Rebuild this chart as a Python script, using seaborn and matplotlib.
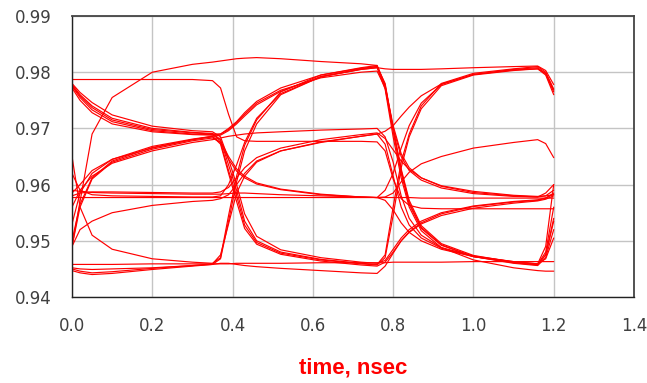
import numpy as np
import pandas as pd
import matplotlib
matplotlib.use("Agg")
import matplotlib.pyplot as plt
from matplotlib.ticker import MultipleLocator, FormatStrFormatter
import seaborn as sns

# common time grid (ns)
time_ns = [0.00, 0.02, 0.05, 0.10, 0.20, 0.30, 0.35, 0.37, 0.39, 0.41, 0.43, 0.46, 0.52,
           0.62, 0.72, 0.76, 0.78, 0.80, 0.82, 0.84, 0.87, 0.92, 1.00, 1.10, 1.16, 1.18, 1.20]

# eye-diagram traces (volts)
tr01 = [0.9490, 0.9570, 0.9690, 0.9755, 0.9800, 0.9814, 0.9818,
        0.9820, 0.9822, 0.9824, 0.9825, 0.9826, 0.9824, 0.9819, 0.9815, 0.9812,
        0.9775, 0.9695, 0.9620, 0.9565, 0.9522, 0.9492, 0.9472, 0.9461, 0.9457,
        0.9475, 0.9540]
tr02 = [0.9787, 0.9787, 0.9787, 0.9787, 0.9787, 0.9787, 0.9785,
        0.9772, 0.9725, 0.9685, 0.9678, 0.9677, 0.9677, 0.9677, 0.9677, 0.9676,
        0.9660, 0.9610, 0.9575, 0.9563, 0.9558, 0.9557, 0.9557, 0.9557, 0.9557,
        0.9557, 0.9557]
tr03 = [0.9458, 0.9458, 0.9458, 0.9458, 0.9459, 0.9459, 0.9459,
        0.9459, 0.9459, 0.9460, 0.9460, 0.9460, 0.9460, 0.9461, 0.9461, 0.9461,
        0.9461, 0.9462, 0.9462, 0.9462, 0.9462, 0.9462, 0.9463, 0.9463, 0.9463,
        0.9463, 0.9463]
tr04 = [0.9577, 0.9577, 0.9577, 0.9577, 0.9577, 0.9577, 0.9577,
        0.9577, 0.9577, 0.9577, 0.9577, 0.9577, 0.9577, 0.9577, 0.9577, 0.9577,
        0.9577, 0.9577, 0.9577, 0.9577, 0.9576, 0.9576, 0.9576, 0.9576, 0.9576,
        0.9576, 0.9576]
tr05 = [0.9778, 0.9760, 0.9740, 0.9718, 0.9700, 0.9693, 0.9691,
        0.9680, 0.9635, 0.9590, 0.9535, 0.9500, 0.9480, 0.9467, 0.9460, 0.9458,
        0.9475, 0.9560, 0.9640, 0.9690, 0.9740, 0.9780, 0.9798, 0.9806, 0.9810,
        0.9800, 0.9770]
tr06 = [0.9775, 0.9755, 0.9733, 0.9712, 0.9696, 0.9690, 0.9689,
        0.9678, 0.9650, 0.9628, 0.9615, 0.9603, 0.9592, 0.9583, 0.9578, 0.9577,
        0.9578, 0.9585, 0.9605, 0.9622, 0.9637, 0.9650, 0.9665, 0.9675, 0.9680,
        0.9673, 0.9648]
tr07 = [0.9772, 0.9750, 0.9728, 0.9708, 0.9694, 0.9689, 0.9688,
        0.9690, 0.9700, 0.9712, 0.9728, 0.9748, 0.9772, 0.9795, 0.9807, 0.9810,
        0.9780, 0.9700, 0.9628, 0.9572, 0.9527, 0.9495, 0.9474, 0.9462, 0.9458,
        0.9480, 0.9560]
tr08 = [0.9780, 0.9764, 0.9746, 0.9724, 0.9704, 0.9696, 0.9694,
        0.9685, 0.9645, 0.9600, 0.9548, 0.9508, 0.9484, 0.9470, 0.9462, 0.9460,
        0.9465, 0.9485, 0.9505, 0.9520, 0.9535, 0.9550, 0.9562, 0.9570, 0.9573,
        0.9576, 0.9585]
tr09 = [0.9776, 0.9758, 0.9737, 0.9715, 0.9698, 0.9692, 0.9690,
        0.9690, 0.9698, 0.9710, 0.9725, 0.9745, 0.9768, 0.9790, 0.9800, 0.9802,
        0.9772, 0.9700, 0.9650, 0.9625, 0.9608, 0.9594, 0.9584, 0.9579, 0.9578,
        0.9580, 0.9590]
tr10 = [0.9490, 0.9560, 0.9610, 0.9640, 0.9663, 0.9678, 0.9683,
        0.9675, 0.9645, 0.9624, 0.9612, 0.9601, 0.9591, 0.9582, 0.9578, 0.9577,
        0.9590, 0.9620, 0.9665, 0.9705, 0.9745, 0.9778, 0.9796, 0.9805, 0.9808,
        0.9797, 0.9765]
tr11 = [0.9585, 0.9600, 0.9625, 0.9645, 0.9665, 0.9680, 0.9685,
        0.9675, 0.9625, 0.9580, 0.9528, 0.9497, 0.9478, 0.9466, 0.9459, 0.9457,
        0.9470, 0.9545, 0.9630, 0.9685, 0.9735, 0.9776, 0.9795, 0.9803, 0.9806,
        0.9795, 0.9760]
tr12 = [0.9530, 0.9585, 0.9620, 0.9645, 0.9668, 0.9681, 0.9686,
        0.9688, 0.9696, 0.9708, 0.9722, 0.9742, 0.9766, 0.9792, 0.9805, 0.9808,
        0.9806, 0.9805, 0.9805, 0.9805, 0.9805, 0.9806, 0.9808, 0.9810, 0.9811,
        0.9803, 0.9778]
tr13 = [0.9560, 0.9590, 0.9615, 0.9638, 0.9660, 0.9675, 0.9680,
        0.9683, 0.9686, 0.9688, 0.9690, 0.9692, 0.9694, 0.9697, 0.9699, 0.9700,
        0.9685, 0.9640, 0.9580, 0.9540, 0.9510, 0.9488, 0.9473, 0.9463, 0.9459,
        0.9490, 0.9600]
tr14 = [0.9500, 0.9565, 0.9612, 0.9642, 0.9666, 0.9680, 0.9686,
        0.9672, 0.9620, 0.9570, 0.9522, 0.9494, 0.9476, 0.9464, 0.9457, 0.9455,
        0.9462, 0.9480, 0.9500, 0.9515, 0.9530, 0.9545, 0.9558, 0.9567, 0.9571,
        0.9574, 0.9580]
tr15 = [0.9580, 0.9585, 0.9587, 0.9587, 0.9586, 0.9585, 0.9585,
        0.9587, 0.9595, 0.9612, 0.9630, 0.9648, 0.9665, 0.9680, 0.9689, 0.9692,
        0.9682, 0.9662, 0.9642, 0.9627, 0.9612, 0.9598, 0.9588, 0.9581, 0.9579,
        0.9580, 0.9582]
tr16 = [0.9620, 0.9590, 0.9582, 0.9580, 0.9579, 0.9578, 0.9578,
        0.9580, 0.9600, 0.9635, 0.9675, 0.9718, 0.9762, 0.9792, 0.9805, 0.9808,
        0.9770, 0.9685, 0.9612, 0.9560, 0.9518, 0.9488, 0.9466, 0.9452, 0.9447,
        0.9446, 0.9446]
tr17 = [0.9590, 0.9588, 0.9586, 0.9585, 0.9584, 0.9583, 0.9583,
        0.9583, 0.9584, 0.9585, 0.9585, 0.9584, 0.9582, 0.9580, 0.9578, 0.9577,
        0.9572, 0.9555, 0.9532, 0.9515, 0.9500, 0.9485, 0.9472, 0.9463, 0.9459,
        0.9468, 0.9505]
tr18 = [0.9490, 0.9520, 0.9535, 0.9550, 0.9563, 0.9570, 0.9572,
        0.9575, 0.9582, 0.9600, 0.9620, 0.9642, 0.9660, 0.9675, 0.9686, 0.9690,
        0.9695, 0.9705, 0.9722, 0.9738, 0.9758, 0.9779, 0.9796, 0.9804, 0.9806,
        0.9798, 0.9768]
tr19 = [0.9650, 0.9560, 0.9510, 0.9485, 0.9468, 0.9462, 0.9460,
        0.9470, 0.9545, 0.9615, 0.9670, 0.9715, 0.9765, 0.9795, 0.9808, 0.9812,
        0.9778, 0.9698, 0.9625, 0.9568, 0.9524, 0.9493, 0.9472, 0.9460, 0.9456,
        0.9470, 0.9520]
tr20 = [0.9447, 0.9443, 0.9440, 0.9442, 0.9449, 0.9455, 0.9458,
        0.9468, 0.9535, 0.9605, 0.9660, 0.9708, 0.9760, 0.9792, 0.9806, 0.9810,
        0.9775, 0.9705, 0.9655, 0.9630, 0.9612, 0.9597, 0.9586, 0.9580, 0.9578,
        0.9585, 0.9600]
tr21 = [0.9450, 0.9446, 0.9443, 0.9445, 0.9451, 0.9456, 0.9459,
        0.9475, 0.9530, 0.9585, 0.9615, 0.9640, 0.9660, 0.9676, 0.9686, 0.9690,
        0.9672, 0.9615, 0.9560, 0.9528, 0.9505, 0.9487, 0.9472, 0.9462, 0.9458,
        0.9475, 0.9535]
tr22 = [0.9452, 0.9450, 0.9449, 0.9450, 0.9452, 0.9456, 0.9458,
        0.9460, 0.9460, 0.9458, 0.9456, 0.9454, 0.9451, 0.9447, 0.9443, 0.9442,
        0.9455, 0.9478, 0.9500, 0.9516, 0.9532, 0.9548, 0.9561, 0.9569, 0.9572,
        0.9576, 0.9583]

traces = [tr01, tr02, tr03, tr04, tr05, tr06, tr07, tr08, tr09, tr10, tr11,
          tr12, tr13, tr14, tr15, tr16, tr17, tr18, tr19, tr20, tr21, tr22]

x_ticks = [0.0, 0.2, 0.4, 0.6, 0.8, 1.0, 1.2, 1.4]
y_ticks = [0.94, 0.95, 0.96, 0.97, 0.98, 0.99]

rows = []
for k, tr in enumerate(traces):
    for t, v in zip(time_ns, tr):
        rows.append({"time": t, "value": v, "trace": k})
df = pd.DataFrame(rows)

sns.set_style("white")
plt.rcParams["font.family"] = ["DejaVu Sans"]

fig = plt.figure(figsize=(6.47, 3.83), dpi=100)
ax = fig.add_axes([0.1113, 0.2245, 0.8686, 0.7337])

sns.lineplot(data=df, x="time", y="value", units="trace", estimator=None,
             sort=False, color="#ff0000", lw=0.85, ax=ax, legend=False)

ax.set_xlim(0, 1.4)
ax.set_ylim(0.94, 0.99)
ax.set_xticks(x_ticks)
ax.set_yticks(y_ticks)
ax.xaxis.set_minor_locator(MultipleLocator(0.1))
ax.yaxis.set_minor_locator(MultipleLocator(0.005))
ax.xaxis.set_major_formatter(FormatStrFormatter("%.1f"))
ax.yaxis.set_major_formatter(FormatStrFormatter("%.2f"))

ax.grid(True, which="major", color="#c4c4c4", lw=1.0)
ax.set_axisbelow(True)

for side in ["left", "bottom"]:
    ax.spines[side].set_color("#222222")
    ax.spines[side].set_linewidth(1.0)
for side in ["top", "right"]:
    ax.spines[side].set_color("#444444")
    ax.spines[side].set_linewidth(1.3)
    ax.spines[side].set_visible(True)

ax.tick_params(axis="y", which="major", direction="out", length=12, width=1,
               color="#222222", labelsize=12, labelcolor="#404040", pad=3)
ax.tick_params(axis="y", which="minor", direction="out", length=6.5, width=1,
               color="#222222")
ax.tick_params(axis="x", which="major", direction="out", length=10, width=1,
               color="#222222", labelsize=12, labelcolor="#404040", pad=4.5)
ax.tick_params(axis="x", which="minor", direction="out", length=5, width=1,
               color="#222222")
ax.yaxis.get_major_ticks()[-1].tick1line.set_visible(False)

ax.set_xlabel("time, nsec", color="#ff0000", fontsize=16, fontweight="bold",
              family=["Liberation Sans", "DejaVu Sans"], labelpad=16)
ax.set_ylabel("")

fig.savefig("out.png", dpi=100)
